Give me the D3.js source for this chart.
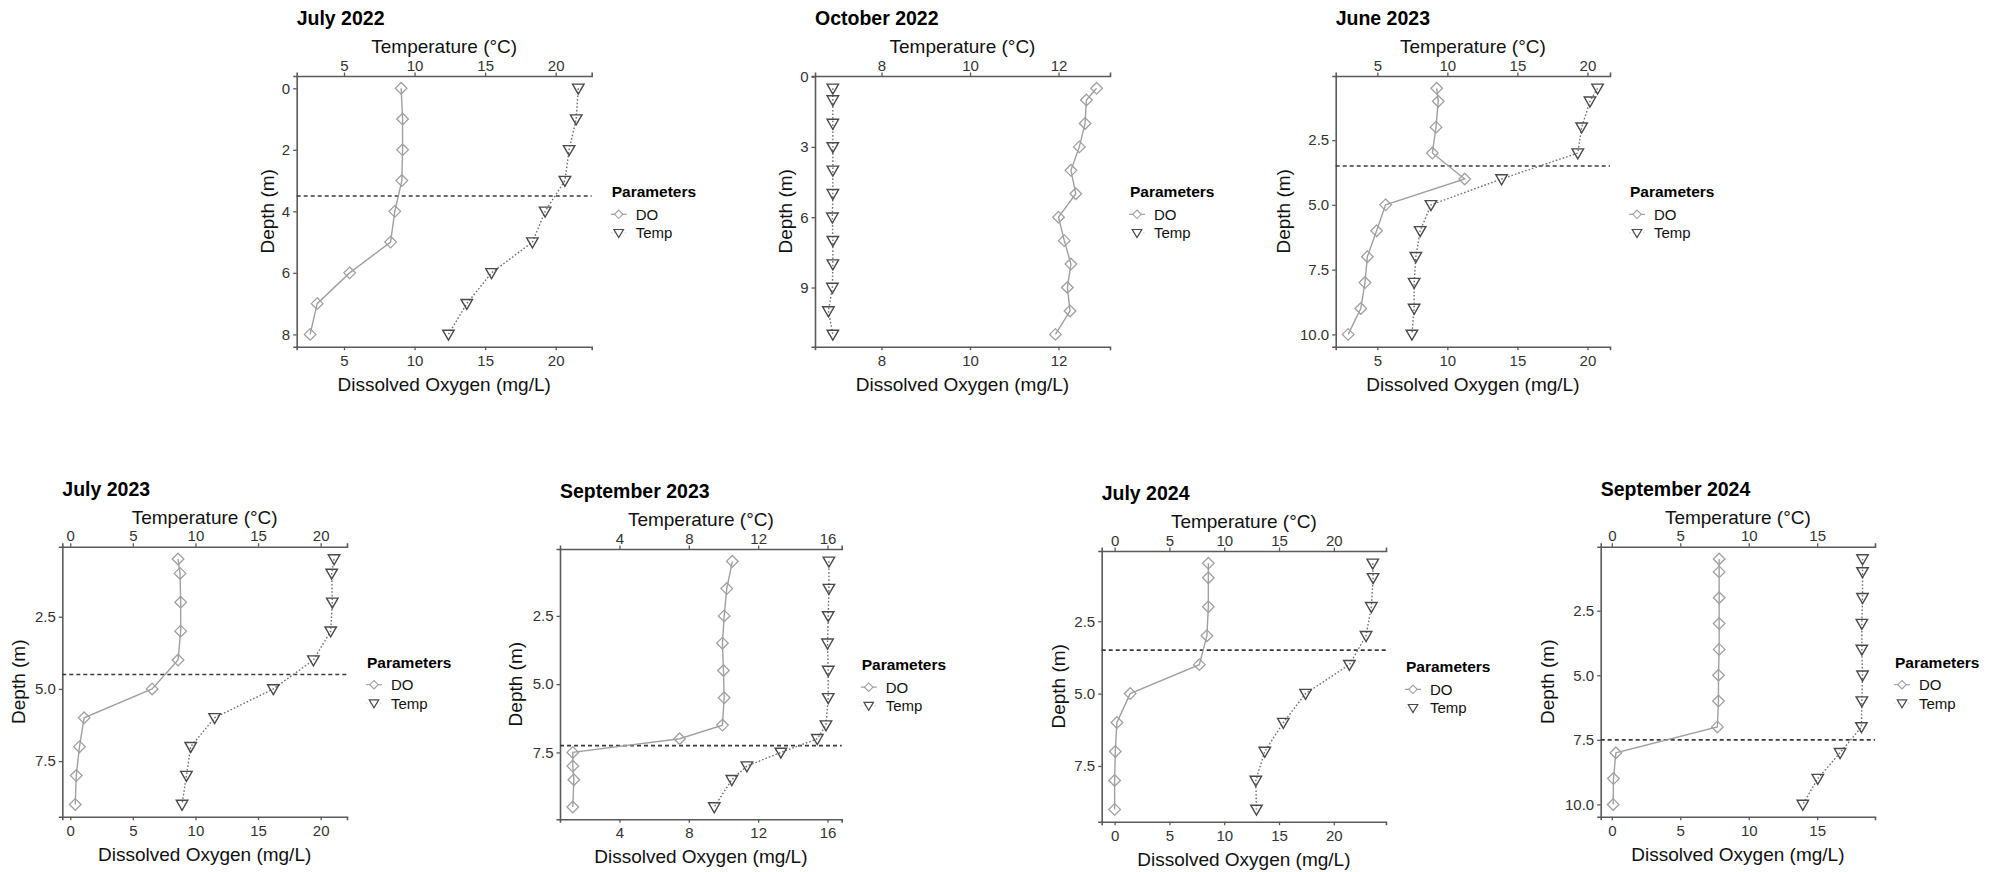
<!DOCTYPE html>
<html><head><meta charset="utf-8">
<script src="https://cdn.jsdelivr.net/npm/d3@7/dist/d3.min.js"></script>
<style>
body{margin:0;background:#fff}
svg{display:block;font-family:"Liberation Sans",Arial,sans-serif}
</style>
</head><body>
<svg id="c" width="1999" height="872"></svg>
<script>
// ---------- data ----------
const titles = ["July 2022", "October 2022", "June 2023", "July 2023", "September 2023", "July 2024", "September 2024"];
const legendTitle = "Parameters";
const seriesNames = ["DO", "Temp"];
const xTitleBottom = "Dissolved Oxygen (mg/L)";
const xTitleTop = "Temperature (°C)";
const yTitle = "Depth (m)";

// July 2022
const depthJul22 = [0, 1, 2, 3, 4, 5, 6, 7, 8];
const doJul22    = [9.05, 9.15, 9.15, 9.1, 8.6, 8.3, 5.4, 3.1, 2.6];
const tempJul22  = [21.6, 21.45, 20.95, 20.65, 19.25, 18.35, 15.45, 13.7, 12.4];
const thermoJul22 = 3.5;
const xTicksJul22 = [5, 10, 15, 20];
const yTicksJul22 = [0, 2, 4, 6, 8];

// October 2022
const depthOct22 = [0.5, 1, 2, 3, 4, 5, 6, 7, 8, 9, 10, 11];
const doOct22    = [12.86, 12.63, 12.6, 12.47, 12.28, 12.39, 12.0, 12.13, 12.28, 12.2, 12.26, 11.93];
const tempOct22  = [6.9, 6.9, 6.9, 6.9, 6.9, 6.9, 6.89, 6.9, 6.9, 6.89, 6.8, 6.9];
const thermoOct22 = null;
const xTicksOct22 = [8, 10, 12];
const yTicksOct22 = [0, 3, 6, 9];

// June 2023
const depthJun23 = [0.5, 1, 2, 3, 4, 5, 6, 7, 8, 9, 10];
const doJun23    = [9.24, 9.35, 9.19, 8.93, 11.24, 5.59, 4.95, 4.29, 4.12, 3.82, 2.92];
const tempJun23  = [20.72, 20.18, 19.59, 19.31, 13.87, 8.83, 8.06, 7.75, 7.63, 7.63, 7.47];
const thermoJun23 = 3.5;
const xTicksJun23 = [5, 10, 15, 20];
const yTicksJun23 = [2.5, 5.0, 7.5, 10.0];

// July 2023
const depthJul23 = [0.5, 1, 2, 3, 4, 5, 6, 7, 8, 9];
const doJul23    = [8.61, 8.77, 8.82, 8.82, 8.61, 6.54, 1.11, 0.74, 0.48, 0.40];
const tempJul23  = [21.07, 20.88, 20.93, 20.8, 19.42, 16.22, 11.53, 9.62, 9.28, 8.93];
const thermoJul23 = 4.5;
const xTicksJul23 = [0, 5, 10, 15, 20];
const yTicksJul23 = [2.5, 5.0, 7.5];

// September 2023
const depthSep23 = [0.5, 1.5, 2.5, 3.5, 4.5, 5.5, 6.5, 7, 7.5, 8, 8.5, 9.5];
const doSep23    = [10.51, 10.19, 10.04, 9.94, 10.0, 10.04, 9.94, 7.47, 1.31, 1.31, 1.37, 1.31];
const tempSep23  = [16.08, 16.08, 16.04, 16.0, 16.04, 16.04, 15.91, 15.41, 13.31, 11.35, 10.48, 9.47];
const thermoSep23 = 7.25;
const xTicksSep23 = [4, 8, 12, 16];
const yTicksSep23 = [2.5, 5.0, 7.5];

// July 2024
const depthJul24 = [0.5, 1, 2, 3, 4, 5, 6, 7, 8, 9];
const doJul24    = [8.55, 8.55, 8.55, 8.42, 7.73, 1.42, 0.21, 0.06, 0.0, 0.0];
const tempJul24  = [23.55, 23.58, 23.42, 22.94, 21.42, 17.42, 15.39, 13.7, 12.88, 12.94];
const thermoJul24 = 3.5;
const xTicksJul24 = [0, 5, 10, 15, 20];
const yTicksJul24 = [2.5, 5.0, 7.5];

// September 2024
const depthSep24 = [0.5, 1, 2, 3, 4, 5, 6, 7, 8, 9, 10];
const doSep24    = [7.84, 7.84, 7.84, 7.84, 7.84, 7.79, 7.79, 7.71, 0.3, 0.12, 0.1];
const tempSep24  = [18.31, 18.31, 18.31, 18.26, 18.26, 18.31, 18.26, 18.23, 16.67, 15.04, 13.95];
const thermoSep24 = 7.5;
const xTicksSep24 = [0, 5, 10, 15];
const yTicksSep24 = [2.5, 5.0, 7.5, 10.0];

// ---------- panel assembly ----------
const fmtInt = d3.format("d"), fmt1 = d3.format(".1f");
const panels = [
  {title: titles[0], depth: depthJul22, dov: doJul22, temp: tempJul22, thermo: thermoJul22, xt: xTicksJul22, yt: yTicksJul22, yf: fmtInt},
  {title: titles[1], depth: depthOct22, dov: doOct22, temp: tempOct22, thermo: thermoOct22, xt: xTicksOct22, yt: yTicksOct22, yf: fmtInt},
  {title: titles[2], depth: depthJun23, dov: doJun23, temp: tempJun23, thermo: thermoJun23, xt: xTicksJun23, yt: yTicksJun23, yf: fmt1},
  {title: titles[3], depth: depthJul23, dov: doJul23, temp: tempJul23, thermo: thermoJul23, xt: xTicksJul23, yt: yTicksJul23, yf: fmt1},
  {title: titles[4], depth: depthSep23, dov: doSep23, temp: tempSep23, thermo: thermoSep23, xt: xTicksSep23, yt: yTicksSep23, yf: fmt1},
  {title: titles[5], depth: depthJul24, dov: doJul24, temp: tempJul24, thermo: thermoJul24, xt: xTicksJul24, yt: yTicksJul24, yf: fmt1},
  {title: titles[6], depth: depthSep24, dov: doSep24, temp: tempSep24, thermo: thermoSep24, xt: xTicksSep24, yt: yTicksSep24, yf: fmt1}
];

// ---------- layout (pixel boxes of each panel) ----------
const layout = [
  {L: 296.7, T: 76,    R: 591.7, B: 346.7, yto: 29},
  {L: 815,   T: 76,    R: 1110,  B: 346.7, yto: 30},
  {L: 1335.7,T: 76,    R: 1610,  B: 346.7, yto: 52.5},
  {L: 62.3,  T: 546.7, R: 347,   B: 816.7, yto: 44},
  {L: 560,   T: 549,   R: 841.7, B: 819.3, yto: 45},
  {L: 1101.7,T: 551,   R: 1386,  B: 821.7, yto: 43},
  {L: 1600.7,T: 546.7, R: 1875,  B: 816.7, yto: 53.5}
];

const AXIS_COL = "#5a5a5a", TICK_TXT = "#333333";
const DO_COL = "#a0a0a0", TEMP_COL = "#4a4a4a", TEMP_LINE = "#707070";
const svg = d3.select("#c");

function diamond(cx, cy, r) {
  return `M${cx},${cy - r}L${cx + r},${cy}L${cx},${cy + r}L${cx - r},${cy}Z`;
}
function triDown(cx, cy, w, h) {
  return `M${cx - w / 2},${cy - h * 0.42}L${cx + w / 2},${cy - h * 0.42}L${cx},${cy + h * 0.58}Z`;
}

function styleAxis(g) {
  g.select(".domain").attr("stroke", AXIS_COL).attr("stroke-width", 1.6);
  g.selectAll(".tick line").attr("stroke", AXIS_COL).attr("stroke-width", 1.3);
  g.selectAll(".tick text").attr("fill", TICK_TXT).attr("font-size", "15px")
    .attr("font-family", '"Liberation Sans",Arial,sans-serif');
}

panels.forEach((p, i) => {
  const b = layout[i];
  const [mn, mx] = d3.extent(p.dov.concat(p.temp));
  const ex = (mx - mn) * 0.05;
  const x = d3.scaleLinear().domain([mn - ex, mx + ex]).range([b.L, b.R]);
  const [dmn, dmx] = d3.extent(p.depth);
  const ey = (dmx - dmn) * 0.05;
  const y = d3.scaleLinear().domain([dmn - ey, dmx + ey]).range([b.T, b.B]);
  const g = svg.append("g");

  // axes
  g.append("g").attr("transform", `translate(0,${b.B})`)
    .call(d3.axisBottom(x).tickValues(p.xt).tickSizeOuter(0).tickSize(3.5).tickPadding(5).tickFormat(fmtInt))
    .call(styleAxis);
  g.append("g").attr("transform", `translate(0,${b.T})`)
    .call(d3.axisTop(x).tickValues(p.xt).tickSizeOuter(0).tickSize(3.5).tickPadding(1.8).tickFormat(fmtInt))
    .call(styleAxis);
  g.append("g").attr("transform", `translate(${b.L},0)`)
    .call(d3.axisLeft(y).tickValues(p.yt).tickSizeOuter(0).tickSize(3.5).tickPadding(3).tickFormat(p.yf))
    .call(styleAxis);

  // thermocline
  if (p.thermo !== null) {
    g.append("line").attr("x1", b.L).attr("x2", b.R)
      .attr("y1", y(p.thermo)).attr("y2", y(p.thermo))
      .attr("stroke", "#3a3a3a").attr("stroke-width", 1.6).attr("stroke-dasharray", "4,3");
  }

  const doPts = p.depth.map((d, k) => [p.dov[k], d]);
  const tPts = p.depth.map((d, k) => [p.temp[k], d]);
  const line = d3.line().x(d => x(d[0])).y(d => y(d[1]));

  g.append("path").attr("d", line(doPts)).attr("fill", "none")
    .attr("stroke", DO_COL).attr("stroke-width", 1.4);
  g.append("path").attr("d", line(tPts)).attr("fill", "none")
    .attr("stroke", TEMP_LINE).attr("stroke-width", 1.4).attr("stroke-dasharray", "1.6,2");

  g.selectAll(null).data(doPts).enter().append("path")
    .attr("d", d => diamond(x(d[0]), y(d[1]), 5.8))
    .attr("fill", "none").attr("stroke", DO_COL).attr("stroke-width", 1.3);
  g.selectAll(null).data(tPts).enter().append("path")
    .attr("d", d => triDown(x(d[0]), y(d[1]), 11.5, 10))
    .attr("fill", "none").attr("stroke", TEMP_COL).attr("stroke-width", 1.4);

  // titles
  g.append("text").attr("x", b.L).attr("y", b.T - 51).text(p.title)
    .attr("font-weight", "bold").attr("font-size", "19.5px").attr("fill", "#000");
  g.append("text").attr("x", (b.L + b.R) / 2).attr("y", b.T - 23).attr("text-anchor", "middle")
    .attr("font-size", "19px").attr("fill", "#111").text(xTitleTop);
  g.append("text").attr("x", (b.L + b.R) / 2).attr("y", b.B + 44).attr("text-anchor", "middle")
    .attr("font-size", "19px").attr("fill", "#111").text(xTitleBottom);
  const ym = (b.T + b.B) / 2;
  g.append("text").attr("transform", `translate(${b.L - b.yto},${ym}) rotate(-90)`)
    .attr("text-anchor", "middle").attr("dominant-baseline", "central")
    .attr("font-size", "19px").attr("fill", "#111").text(yTitle);

  // legend
  const lg = g.append("g");
  lg.append("text").attr("x", b.R + 20).attr("y", ym - 14).text(legendTitle)
    .attr("font-weight", "bold").attr("font-size", "15.5px").attr("fill", "#000");
  const ky1 = ym + 3, ky2 = ym + 21.5, kx = b.R + 27;
  lg.append("line").attr("x1", kx - 8).attr("x2", kx + 8).attr("y1", ky1).attr("y2", ky1)
    .attr("stroke", DO_COL).attr("stroke-width", 1.2);
  lg.append("path").attr("d", diamond(kx, ky1, 4.2)).attr("fill", "#fff")
    .attr("stroke", DO_COL).attr("stroke-width", 1.1);
  lg.append("line").attr("x1", kx - 8).attr("x2", kx + 8).attr("y1", ky2).attr("y2", ky2)
    .attr("stroke", "#cfcfcf").attr("stroke-width", 1).attr("stroke-dasharray", "1.5,2");
  lg.append("path").attr("d", triDown(kx, ky2, 9.5, 8)).attr("fill", "#fff")
    .attr("stroke", TEMP_COL).attr("stroke-width", 1.2);
  lg.append("text").attr("x", b.R + 44).attr("y", ky1 + 5.4).text(seriesNames[0])
    .attr("font-size", "15px").attr("fill", "#111");
  lg.append("text").attr("x", b.R + 44).attr("y", ky2 + 5.4).text(seriesNames[1])
    .attr("font-size", "15px").attr("fill", "#111");
});
</script>
</body></html>
